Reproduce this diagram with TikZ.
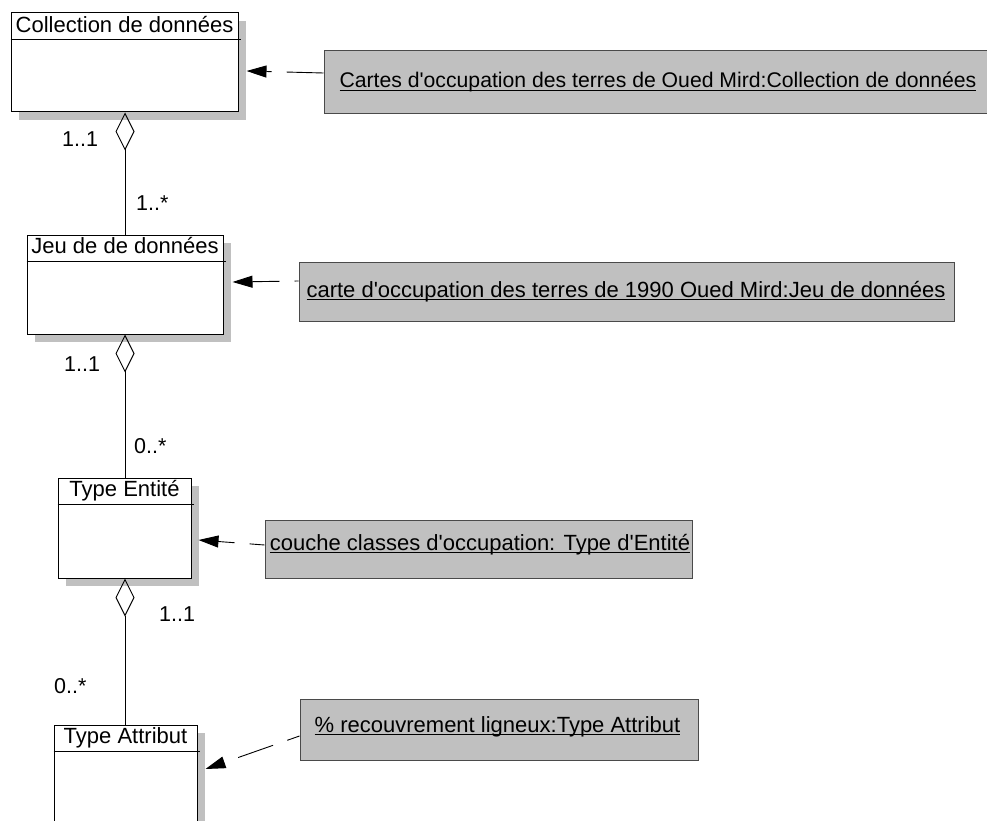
\documentclass[tikz,border=0pt]{standalone}
\usepackage{fontspec}
\setmainfont{Liberation Sans}[Ligatures=TeXOff]
\usetikzlibrary{arrows.meta,shadows}

\definecolor{shadegray}{HTML}{C0C0C0}
\definecolor{notegray}{HTML}{C0C0C0}
\definecolor{noteline}{HTML}{4A4A4A}

% underlined note text: the rule crosses descenders, just below the baseline
\newcommand\ulText[1]{\setbox0\hbox{#1}\rlap{\rule[-3.4pt]{\wd0}{1.4pt}}\box0}

\tikzset{
  classbox/.style={draw=black, line width=1pt, fill=white, inner sep=0pt,
    general shadow={fill=shadegray, shadow xshift=8pt, shadow yshift=-8pt}},
  notebox/.style={draw=noteline, line width=1pt, fill=notegray, inner sep=0pt},
  txt/.style={font=\fontsize{21.5}{24}\selectfont, inner sep=0pt},
  bigtxt/.style={font=\fontsize{22}{24}\selectfont, inner sep=0pt},
  headrule/.style={line width=1pt},
  agg/.style={{Diamond[open,length=38pt,width=19pt]}-, line width=0.9pt},
  dep/.style={-{Triangle[length=20pt,width=12pt]}, line width=0.9pt,
    dash pattern=on 37pt off 15pt},
}

\begin{document}
\begin{tikzpicture}[x=1pt,y=-1pt]
\useasboundingbox (0,0) rectangle (987,821);

% ---- classes ----
\node[classbox, minimum width=227pt, minimum height=99pt] (c1) at (124.5,62.5) {};
\node[classbox, minimum width=196pt, minimum height=99pt] (c2) at (125,284.5) {};
\node[classbox, minimum width=133pt, minimum height=100pt] (c3) at (124.5,528) {};
\node[classbox, minimum width=143pt, minimum height=115pt] (c4) at (125.5,782.5) {};

\foreach \c in {c1,c2,c3,c4}
  \draw[headrule] ([yshift=-27pt]\c.north west) -- ([yshift=-27pt,xshift=2pt]\c.north east);

\node[bigtxt, anchor=base] (c1t) at ([yshift=-20pt]c1.north) {Collection de données};
\node[bigtxt, anchor=base] (c2t) at ([yshift=-18.5pt]c2.north) {Jeu de de données};
\node[bigtxt, anchor=base] (c3t) at ([yshift=-19pt]c3.north) {Type Entité};
\node[bigtxt, anchor=base] (c4t) at ([yshift=-18.5pt]c4.north) {Type Attribut};

% ---- aggregations ----
\draw[agg] (c1.south -| 125,0) -- (c2.north -| 125,0);
\draw[agg] (c2.south -| 125,0) -- (c3.north -| 125,0);
\draw[agg] (c3.south -| 125,0) -- (c4.north -| 125,0);

% ---- multiplicities ----
\node[txt, anchor=base west] (m1a) at (62,147) {1..1};
\node[txt, anchor=base west] (m1b) at (136,211) {1..*};
\node[txt, anchor=base west] (m2a) at (64,371) {1..1};
\node[txt, anchor=base west] (m2b) at (134,453) {0..*};
\node[txt, anchor=base west] (m3a) at (159,621) {1..1};
\node[txt, anchor=base west] (m3b) at (54,693) {0..*};

% ---- instance notes ----
\node[notebox, minimum width=668pt, minimum height=63pt] (n1) at (658,82.5) {};
\node[notebox, minimum width=655pt, minimum height=59pt] (n2) at (626.5,291.5) {};
\node[notebox, minimum width=427pt, minimum height=58pt] (n3) at (478.5,549) {};
\node[notebox, minimum width=398pt, minimum height=61pt] (n4) at (499,729.5) {};

\node[anchor=base, inner sep=0pt, font=\fontsize{21.2}{24}\selectfont] (n1t) at (658,88)
  {\ulText{Cartes d'occupation des terres de Oued Mird:Collection de données}};
\node[bigtxt, anchor=base] (n2t) at (626,297) {\ulText{carte d'occupation des terres de 1990 Oued Mird:Jeu de données}};
\node[bigtxt, anchor=base] (n3t) at (480,550) {\ulText{couche classes d'occupation: Type d'Entité}};
\node[bigtxt, anchor=base] (n4t) at (497.5,732) {\ulText{\% recouvrement ligneux:Type Attribut}};

% ---- note-to-class links ----
\draw[dep] ([yshift=9.5pt]n1.west) -- ([xshift=8pt,yshift=-8.5pt]c1.east);
\draw[dep, dash phase=33pt] ([yshift=10.5pt]n2.west) -- ([xshift=9pt,yshift=2.5pt]c2.east);
\draw[dep, dash phase=22pt] ([yshift=4pt]n3.west) -- ([xshift=7pt,yshift=-12pt]c3.east);
\draw[dep, dash phase=24pt] ([yshift=-6.5pt]n4.west) -- ([xshift=8pt,yshift=13.5pt]c4.east);
\end{tikzpicture}
\end{document}
